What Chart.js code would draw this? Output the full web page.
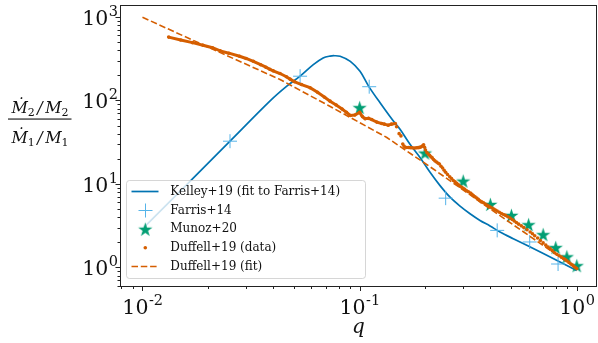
<!DOCTYPE html>
<html>
<head>
<meta charset="utf-8">
<script src="https://cdn.jsdelivr.net/npm/chart.js@4.4.0/dist/chart.umd.min.js"></script>
<style>
html, body { margin: 0; padding: 0; background: #fff; }
#wrap { width: 598px; height: 343px; position: relative; }
</style>
</head>
<body>
<div id="wrap"><canvas id="chart"></canvas></div>
<script>
// Kelley+19 (fit to Farris+14)
const kelleyQ = [0.0100, 0.0253, 0.0386, 0.0462, 0.0532, 0.0612, 0.0679, 0.0731, 0.0766, 0.0813, 0.0906,
    0.1004, 0.1105, 0.1242, 0.1430, 0.1535, 0.1706, 0.1897, 0.2110, 0.2346, 0.2608, 0.2900, 0.3224,
    0.3584, 0.3985, 0.4431, 0.5100, 0.7012, 0.9990];
const kelleyY = [2.9, 32.5, 98, 148, 195, 268, 322, 340, 343, 338, 294,
    223, 145.5, 93.7, 56.6, 45.2, 29.9, 20.8, 13.8, 9.55, 6.94, 5.43, 4.40,
    3.66, 3.14, 2.66, 2.21, 1.47, 0.92];

// Farris+14
const farrisQ = [0.0253, 0.0532, 0.1107, 0.249, 0.43, 0.607, 0.82];
const farrisY = [32.5, 195, 146, 6.76, 2.78, 2.02, 1.1];

// Munoz+20
const munozQ = [0.1, 0.2, 0.3, 0.4, 0.5, 0.6, 0.7, 0.8, 0.9, 1.0];
const munozY = [82, 23.4, 10.8, 5.68, 4.2, 3.25, 2.47, 1.73, 1.34, 1.05];

// Duffell+19 (data)
const duffellQ = [0.0132, 0.0150, 0.0170, 0.0190, 0.0210, 0.0228, 0.0250, 0.0280, 0.0300, 0.0324,
    0.0350, 0.0370, 0.0386, 0.0400, 0.0430, 0.0460, 0.0478, 0.0500, 0.0540, 0.0591, 0.0640, 0.0690,
    0.0731, 0.0780, 0.0830, 0.0870, 0.0906, 0.0950, 0.1000, 0.1030, 0.1060, 0.1100, 0.1137, 0.1200,
    0.1264, 0.1300, 0.1354, 0.1400, 0.1460,
    0.148, 0.152, 0.155, 0.158, 0.160, 0.162, 0.165, 0.168, 0.171, 0.174, 0.177, 0.180, 0.183, 0.186,
    0.189, 0.192, 0.195, 0.197, 0.199, 0.201, 0.204, 0.207, 0.210, 0.213, 0.216, 0.219, 0.222, 0.226,
    0.230, 0.233, 0.237, 0.241, 0.245, 0.249, 0.254, 0.260, 0.265, 0.270, 0.275, 0.280, 0.285, 0.290,
    0.295, 0.300, 0.305, 0.311, 0.317, 0.324, 0.329, 0.334, 0.340, 0.346, 0.352, 0.358, 0.365, 0.372,
    0.379, 0.386, 0.392, 0.399, 0.407, 0.415, 0.422, 0.430, 0.440, 0.450, 0.460, 0.470, 0.481, 0.493,
    0.504, 0.515, 0.527, 0.540, 0.555, 0.570, 0.590, 0.610, 0.625, 0.640, 0.660, 0.680, 0.700, 0.720,
    0.737, 0.754, 0.772, 0.790, 0.810, 0.830, 0.850, 0.870, 0.885, 0.900, 0.920, 0.940, 0.955, 0.970,
    0.985, 1.000];
const duffellY = [573, 530, 492, 458, 428, 392, 368, 338, 318, 294,
    268, 250, 236, 226, 210, 192, 180, 168, 155, 142, 125, 109,
    98, 88, 79, 72, 66, 67, 72, 64, 60.5, 61, 59, 55,
    53, 52, 50.5, 52, 53,
    48.5, 40, 37.6, 30, 28.5, 27.5, 27.3, 27.3, 27.2, 27.1, 27.0, 27.0, 27.1, 27.2,
    27.4, 27.8, 28.6, 29.5, 27.5, 25.5, 23.8, 22.8, 22.0, 21.2, 20.5, 19.6, 18.9, 18.3,
    17.7, 17.3, 16.3, 15.5, 14.6, 13.8, 13.0, 12.2, 11.6, 11.0, 10.6, 10.2, 9.8, 9.4,
    9.1, 8.85, 8.6, 8.3, 8.05, 7.8, 7.5, 7.25, 7.0, 6.8, 6.55, 6.3, 6.1, 5.95,
    5.75, 5.6, 5.45, 5.3, 5.15, 5.0, 4.88, 4.75, 4.58, 4.43, 4.3, 4.2, 4.05, 3.9,
    3.75, 3.6, 3.45, 3.3, 3.15, 3.0, 2.83, 2.66, 2.53, 2.4, 2.25, 2.1, 1.97, 1.85,
    1.76, 1.68, 1.59, 1.5, 1.44, 1.38, 1.33, 1.28, 1.24, 1.2, 1.15, 1.1, 1.07, 1.03,
    1.0, 0.97];

// Duffell+19 (fit)
const fitQ = [0.01, 0.0205, 0.043, 0.0718, 0.1334, 0.2184, 0.3985, 1.0];
const fitY = [990, 424, 178, 87, 36, 15.1, 5.04, 0.97];

// decade tick exponents
const xExps = [-2, -1, 0];
const yExps = [0, 1, 2, 3];

const xMin = 0.00788, xMax = 1.239;
const yMin = 0.627, yMax = 1389;

const BLUE = '#0173B2', SKY = '#56B4E9', GREEN = '#029E73', ORANGE = '#D55E00';
const SERIF = "'DejaVu Serif', serif";

const pts = (qs, ys) => qs.map((q, i) => ({ x: q, y: ys[i] }));

function makeStar(r, color) {
    const c = document.createElement('canvas');
    const s = Math.ceil(r * 2) + 2;
    c.width = s; c.height = s;
    const g = c.getContext('2d');
    g.beginPath();
    for (let i = 0; i < 10; i++) {
        const rad = i % 2 ? r * 0.382 : r;
        const a = -Math.PI / 2 + i * Math.PI / 5;
        const px = s / 2 + rad * Math.cos(a), py = s / 2 + 0.6 + rad * Math.sin(a);
        if (i) g.lineTo(px, py); else g.moveTo(px, py);
    }
    g.closePath();
    g.fillStyle = color;
    g.fill();
    return c;
}
const star = makeStar(7.5, GREEN);

function drawRuns(ctx, runs, cx, base) {
    let w = 0;
    runs.forEach(r => { ctx.font = r.f; w += ctx.measureText(r.t).width + (r.pad || 0); });
    let x = cx - w / 2;
    runs.forEach(r => {
        ctx.font = r.f;
        ctx.fillText(r.t, x + (r.pad || 0) / 2, base + (r.dy || 0));
        x += ctx.measureText(r.t).width + (r.pad || 0);
    });
}

const BIG = '20.5px ' + SERIF, SMALL = '14.5px ' + SERIF;
function powerLabel(ctx, e, x, base, align) {
    const ex = String(e);
    ctx.font = BIG;
    const w1 = ctx.measureText('10').width;
    ctx.font = SMALL;
    const w2 = ctx.measureText(ex).width;
    const left = align === 'right' ? x - w1 - w2 : x - (w1 + w2) / 2;
    ctx.textAlign = 'left';
    ctx.font = BIG;
    ctx.fillText('10', left, base);
    ctx.font = SMALL;
    ctx.fillText(ex, left + w1 + 0.5, base - 9);
}

const decor = {
    id: 'decor',
    afterDatasetsDraw(chart) {
        const { ctx, chartArea: a, scales: { x, y } } = chart;
        ctx.save();
        // frame
        ctx.strokeStyle = '#222';
        ctx.lineWidth = 1;
        ctx.strokeRect(a.left + 0.5, a.top + 0.5, a.right - a.left - 1, a.bottom - a.top);
        // ticks
        ctx.beginPath();
        for (let e = -3; e <= 3; e++) {
            for (let m = 1; m <= 9; m++) {
                const v = m * Math.pow(10, e);
                const len = m === 1 ? 5 : 3;
                if (v >= x.min && v <= x.max) {
                    const px = Math.round(x.getPixelForValue(v)) + 0.5;
                    ctx.moveTo(px, a.bottom); ctx.lineTo(px, a.bottom + len);
                }
                if (v >= y.min && v <= y.max) {
                    const py = Math.round(y.getPixelForValue(v)) + 0.5;
                    ctx.moveTo(a.left + 0.5, py); ctx.lineTo(a.left + 0.5 - len, py);
                }
            }
        }
        ctx.stroke();

        // tick labels
        ctx.fillStyle = '#111';
        ctx.textBaseline = 'alphabetic';
        xExps.forEach(e => powerLabel(ctx, e, x.getPixelForValue(Math.pow(10, e)), a.bottom + 28, 'center'));
        yExps.forEach(e => powerLabel(ctx, e, a.left - 2.5, y.getPixelForValue(Math.pow(10, e)) + 7.8, 'right'));

        // legend
        const lx = 126.5, ly = 180.5, lw = 239, lh = 98;
        ctx.beginPath();
        ctx.roundRect(lx, ly, lw, lh, 3);
        ctx.fillStyle = 'rgba(255,255,255,0.8)';
        ctx.fill();
        ctx.strokeStyle = 'rgba(204,204,204,0.8)';
        ctx.stroke();

        const rows = [191.5, 210.5, 229.3, 247.8, 266.5];
        const labels = ['Kelley+19 (fit to Farris+14)', 'Farris+14', 'Munoz+20', 'Duffell+19 (data)', 'Duffell+19 (fit)'];
        ctx.lineWidth = 1.7;
        ctx.strokeStyle = BLUE;
        ctx.beginPath(); ctx.moveTo(131.5, rows[0]); ctx.lineTo(158.5, rows[0]); ctx.stroke();
        ctx.lineWidth = 1;
        ctx.strokeStyle = SKY;
        ctx.beginPath();
        ctx.moveTo(138.5, rows[1]); ctx.lineTo(152.5, rows[1]);
        ctx.moveTo(145.5, rows[1] - 7); ctx.lineTo(145.5, rows[1] + 7);
        ctx.stroke();
        ctx.drawImage(star, 145.3 - star.width / 2, rows[2] - star.height / 2);
        ctx.fillStyle = ORANGE;
        ctx.beginPath(); ctx.arc(145.3, rows[3], 1.8, 0, Math.PI * 2); ctx.fill();
        ctx.strokeStyle = ORANGE;
        ctx.lineWidth = 1.7;
        ctx.setLineDash([6.5, 2.8]);
        ctx.beginPath(); ctx.moveTo(131.5, rows[4]); ctx.lineTo(158.5, rows[4]); ctx.stroke();
        ctx.setLineDash([]);

        ctx.fillStyle = '#111';
        ctx.font = '12px ' + SERIF;
        ctx.textBaseline = 'middle';
        labels.forEach((t, i) => ctx.fillText(t, 170.3, rows[i]));

        // y-axis label, a fraction
        ctx.textBaseline = 'alphabetic';
        const it = 'italic 16px ' + SERIF, sub = '11px ' + SERIF;
        drawRuns(ctx, [
            { t: '\u1E40', f: it }, { t: '2', f: sub, dy: 3 },
            { t: '/', f: it, pad: 5 },
            { t: 'M', f: it }, { t: '2', f: sub, dy: 3 }
        ], 40, 112.7);
        drawRuns(ctx, [
            { t: '\u1E40', f: it }, { t: '1', f: sub, dy: 3 },
            { t: '/', f: it, pad: 5 },
            { t: 'M', f: it }, { t: '1', f: sub, dy: 3 }
        ], 40, 143.3);
        ctx.fillRect(8, 118.5, 63.5, 1.1);
        ctx.restore();
    }
};

new Chart(document.getElementById('chart'), {
    type: 'scatter',
    data: {
        datasets: [
            {
                label: 'Kelley+19 (fit to Farris+14)',
                data: pts(kelleyQ, kelleyY),
                showLine: true,
                borderColor: BLUE,
                borderWidth: 1.7,
                pointRadius: 0,
                tension: 0.35,
                order: 5
            },
            {
                label: 'Farris+14',
                data: pts(farrisQ, farrisY),
                pointStyle: 'cross',
                pointRadius: 7,
                borderColor: SKY,
                borderWidth: 1,
                order: 4
            },
            {
                label: 'Munoz+20',
                data: pts(munozQ, munozY),
                pointStyle: star,
                order: 3
            },
            {
                label: 'Duffell+19 (data)',
                data: pts(duffellQ, duffellY),
                showLine: true,
                borderColor: ORANGE,
                borderWidth: 3,
                segment: {
                    borderColor: c => c.p1.parsed.x > 0.147 ? 'rgba(0,0,0,0)' : undefined
                },
                pointRadius: 1.8,
                pointBorderWidth: 0,
                pointBackgroundColor: ORANGE,
                order: 2
            },
            {
                label: 'Duffell+19 (fit)',
                data: pts(fitQ, fitY),
                showLine: true,
                borderColor: ORANGE,
                borderWidth: 1.6,
                borderDash: [6.5, 2.8],
                pointRadius: 0,
                order: 1
            }
        ]
    },
    options: {
        responsive: true,
        maintainAspectRatio: false,
        animation: false,
        layout: { autoPadding: false, padding: { top: 5, right: 1, left: 0, bottom: 0 } },
        plugins: { legend: { display: false }, tooltip: { enabled: false } },
        scales: {
            x: {
                type: 'logarithmic',
                min: xMin, max: xMax,
                grid: { display: false, drawTicks: false },
                border: { display: false },
                ticks: { display: false },
                title: {
                    display: true, text: 'q', color: '#111',
                    font: { family: SERIF, size: 20, style: 'italic' },
                    padding: { top: 0, bottom: 3 }
                },
                afterFit: s => { s.height = 57; s.paddingLeft = 0; s.paddingRight = 0; }
            },
            y: {
                type: 'logarithmic',
                min: yMin, max: yMax,
                grid: { display: false, drawTicks: false },
                border: { display: false },
                ticks: { display: false },
                afterFit: s => { s.width = 120; s.paddingTop = 0; s.paddingBottom = 0; }
            }
        }
    },
    plugins: [decor]
});
</script>
</body>
</html>
